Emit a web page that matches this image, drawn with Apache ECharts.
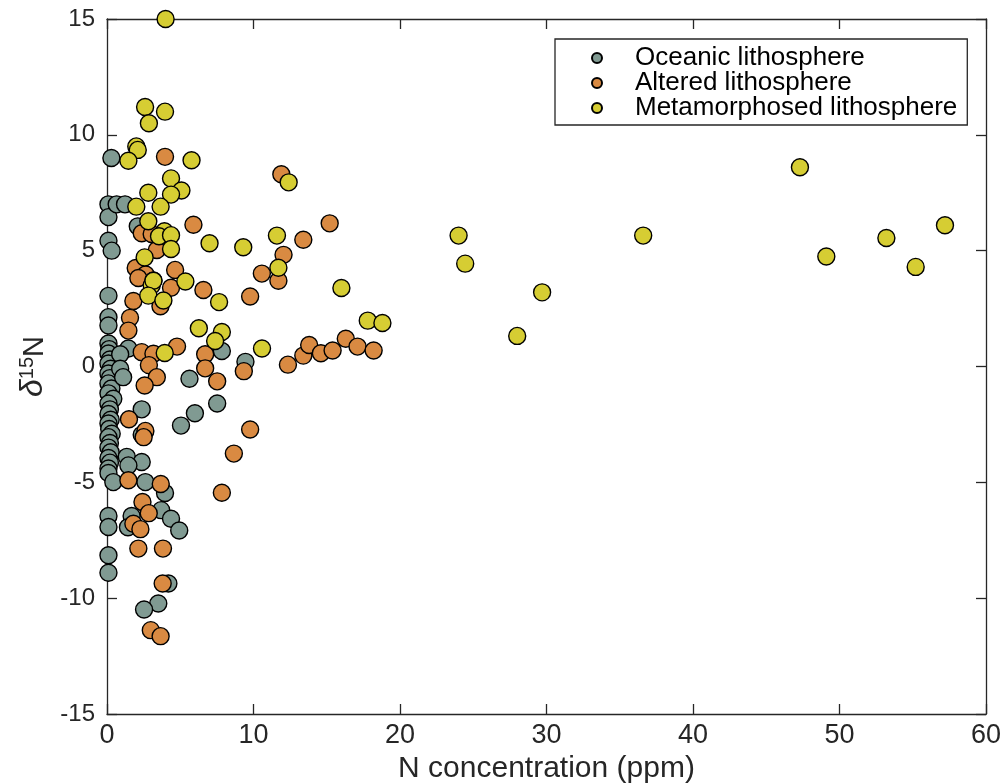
<!DOCTYPE html>
<html>
<head>
<meta charset="utf-8">
<script src="https://cdn.jsdelivr.net/npm/echarts@6/dist/echarts.min.js"></script>
<style>
html,body{margin:0;padding:0;background:#fff;}
#chart{width:1005px;height:784px;}
</style>
</head>
<body>
<div id="chart"></div>
<script>
// ---- Data (N concentration ppm, delta15N) ----
const seriesNames = ['Oceanic lithosphere', 'Altered lithosphere', 'Metamorphosed lithosphere'];
const xTicks = [0, 10, 20, 30, 40, 50, 60];
const yTicks = [-15, -10, -5, 0, 5, 10, 15];

const oceanic = [
  [0.3,9.0],[0.1,7.0],[0.1,6.45],[0.1,5.43],[0.32,5.0],[0.1,3.05],[0.1,2.13],[0.1,1.77],
  [0.1,0.99],[0.15,0.75],[0.1,0.56],[0.2,0.3],[0.1,0.13],[0.25,-0.1],[0.1,-0.3],[0.2,-0.5],
  [0.1,-0.73],[0.3,-0.95],[0.1,-1.16],[0.43,-1.39],[0.1,-1.6],[0.2,-1.85],[0.1,-2.05],[0.25,-2.3],
  [0.1,-2.46],[0.15,-2.7],[0.32,-2.9],[0.1,-3.05],[0.2,-3.3],[0.1,-3.5],[0.25,-3.7],[0.1,-3.95],
  [0.2,-4.15],[0.1,-4.4],[0.1,-4.6],[0.43,-4.99],[0.1,-6.45],[0.1,-6.93],[0.1,-8.15],[0.1,-8.9],
  [0.66,7.0],[1.23,7.0],[2.1,6.05],[1.46,0.78],[0.9,0.53],[0.9,-0.1],[1.1,-0.46],[2.37,-1.85],
  [2.37,-2.95],[1.35,-3.9],[2.37,-4.12],[1.46,-4.27],[2.62,-4.99],[3.96,-5.46],[3.7,-6.2],
  [4.37,-6.57],[4.93,-7.08],[1.68,-6.45],[1.43,-6.94],[4.19,-9.37],[3.5,-10.23],[2.53,-10.49],
  [7.84,0.67],[9.45,0.2],[5.63,-0.53],[7.52,-1.6],[6.0,-2.02],[5.05,-2.55]
];

const altered = [
  [3.96,9.05],[11.9,8.3],[5.9,6.12],[2.37,5.75],[3.05,5.72],[3.4,5.03],[1.96,4.25],[2.64,3.97],
  [2.14,3.82],[4.65,4.17],[3.17,3.71],[4.37,3.4],[6.58,3.3],[1.8,2.83],[3.65,2.6],[9.77,3.02],
  [1.57,2.1],[1.46,1.55],[12.05,4.82],[10.57,4.01],[11.7,3.7],[13.4,5.47],[15.2,6.18],[2.37,0.62],
  [3.17,0.55],[4.78,0.86],[2.86,0.06],[3.4,-0.46],[2.57,-0.82],[6.7,0.53],[6.7,-0.08],[7.52,-0.64],
  [9.34,-0.2],[12.35,0.08],[13.4,0.47],[13.8,0.93],[14.6,0.57],[15.4,0.69],[16.3,1.2],[17.1,0.86],
  [18.2,0.69],[1.5,-2.28],[2.62,-2.78],[2.5,-3.05],[9.77,-2.72],[8.66,-3.76],[7.84,-5.45],
  [1.46,-4.91],[3.67,-5.07],[2.42,-5.85],[2.85,-6.33],[1.8,-6.79],[2.28,-7.02],[2.14,-7.86],
  [3.82,-7.86],[3.8,-9.37],[2.99,-11.38],[3.66,-11.64]
];

const metamorphosed = [
  [4.0,15.0],[2.6,11.2],[3.96,11.0],[2.86,10.5],[2.0,9.5],[2.1,9.35],[1.46,8.88],[5.77,8.9],
  [12.4,7.95],[4.37,8.12],[5.08,7.6],[2.82,7.5],[4.37,7.42],[2.0,6.9],[3.66,6.9],[2.82,6.27],
  [3.92,5.84],[3.55,5.62],[4.37,5.67],[7.0,5.32],[9.3,5.15],[11.6,5.65],[4.37,5.07],[2.57,4.71],
  [3.05,3.5],[3.17,3.7],[5.35,3.67],[2.82,3.06],[3.85,2.85],[7.65,2.78],[6.27,1.65],[7.84,1.49],
  [7.38,1.1],[3.94,0.58],[10.58,0.78],[11.7,4.26],[16.0,3.39],[17.8,1.98],[18.8,1.88],
  [24.0,5.65],[24.45,4.44],[28.0,1.32],[29.7,3.2],[36.6,5.65],[47.3,8.6],[49.1,4.75],
  [53.2,5.55],[55.2,4.3],[57.2,6.1]
];

const colors = ['#809a92', '#d98a42', '#d6cd33'];
const FONT = 'Arial, "Liberation Sans", Helvetica, sans-serif';

const chart = echarts.init(document.getElementById('chart'), null, {renderer: 'canvas'});

function mkSeries(name, data, color) {
  return {
    name: name,
    type: 'scatter',
    data: data,
    symbol: 'circle',
    symbolSize: 17,
    clip: false,
    itemStyle: {color: color, borderColor: '#000', borderWidth: 1.4, opacity: 1},
    emphasis: {disabled: true}
  };
}

const axisLineStyle = {color: '#262626', width: 1.3};
const xMin = xTicks[0], xMax = xTicks[xTicks.length - 1];
const yMin = yTicks[0], yMax = yTicks[yTicks.length - 1];

const option = {
  animation: false,
  backgroundColor: '#fff',
  grid: {left: 107, right: 19, top: 19, bottom: 70, containLabel: false, outerBoundsMode: 'none'},
  legend: {
    show: true,
    orient: 'vertical',
    left: 555,
    top: 39,
    data: seriesNames.map(n => ({name: n, icon: 'circle'})),
    itemWidth: 66,
    itemHeight: 10,
    itemGap: -1,
    padding: [6, 10, 4, 36],
    borderColor: '#262626',
    borderWidth: 1.3,
    backgroundColor: '#fff',
    selectedMode: false,
    textStyle: {fontFamily: FONT, fontSize: 26, color: '#000', lineHeight: 21}
  },
  xAxis: [{
    type: 'value', min: xMin, max: xMax, interval: 10, position: 'bottom',
    name: 'N concentration (ppm)', nameLocation: 'middle', nameGap: 36,
    nameTextStyle: {fontFamily: FONT, fontSize: 30, color: '#262626'},
    axisLine: {show: true, onZero: false, lineStyle: axisLineStyle},
    axisTick: {show: true, inside: true, length: 10, lineStyle: axisLineStyle},
    axisLabel: {fontFamily: FONT, fontSize: 27, color: '#262626', margin: 8},
    splitLine: {show: false}
  }, {
    type: 'value', min: xMin, max: xMax, interval: 10, position: 'top',
    axisLine: {show: true, onZero: false, lineStyle: axisLineStyle},
    axisTick: {show: true, inside: true, length: 10, lineStyle: axisLineStyle},
    axisLabel: {show: false}, splitLine: {show: false}
  }],
  yAxis: [{
    type: 'value', min: yMin, max: yMax, interval: 5, position: 'left',
    name: '{d|δ}{s|15}{n|N}', nameLocation: 'middle', nameGap: 53,
    nameRotate: 90,
    nameTextStyle: {
      fontFamily: FONT, color: '#262626',
      rich: {
        d: {fontFamily: FONT, fontSize: 32, fontStyle: 'italic', color: '#262626', verticalAlign: 'bottom'},
        s: {fontFamily: FONT, fontSize: 20, color: '#262626', verticalAlign: 'bottom', padding: [0, 0, 12, 0]},
        n: {fontFamily: FONT, fontSize: 29, color: '#262626', verticalAlign: 'bottom'}
      }
    },
    axisLine: {show: true, onZero: false, lineStyle: axisLineStyle},
    axisTick: {show: true, inside: true, length: 10, lineStyle: axisLineStyle},
    axisLabel: {fontFamily: FONT, fontSize: 24, color: '#262626', margin: 12},
    splitLine: {show: false}
  }, {
    type: 'value', min: yMin, max: yMax, interval: 5, position: 'right',
    axisLine: {show: true, onZero: false, lineStyle: axisLineStyle},
    axisTick: {show: true, inside: true, length: 10, lineStyle: axisLineStyle},
    axisLabel: {show: false}, splitLine: {show: false}
  }],
  series: [
    mkSeries(seriesNames[0], oceanic, colors[0]),
    mkSeries(seriesNames[1], altered, colors[1]),
    mkSeries(seriesNames[2], metamorphosed, colors[2])
  ]
};
chart.setOption(option);
</script>
</body>
</html>
